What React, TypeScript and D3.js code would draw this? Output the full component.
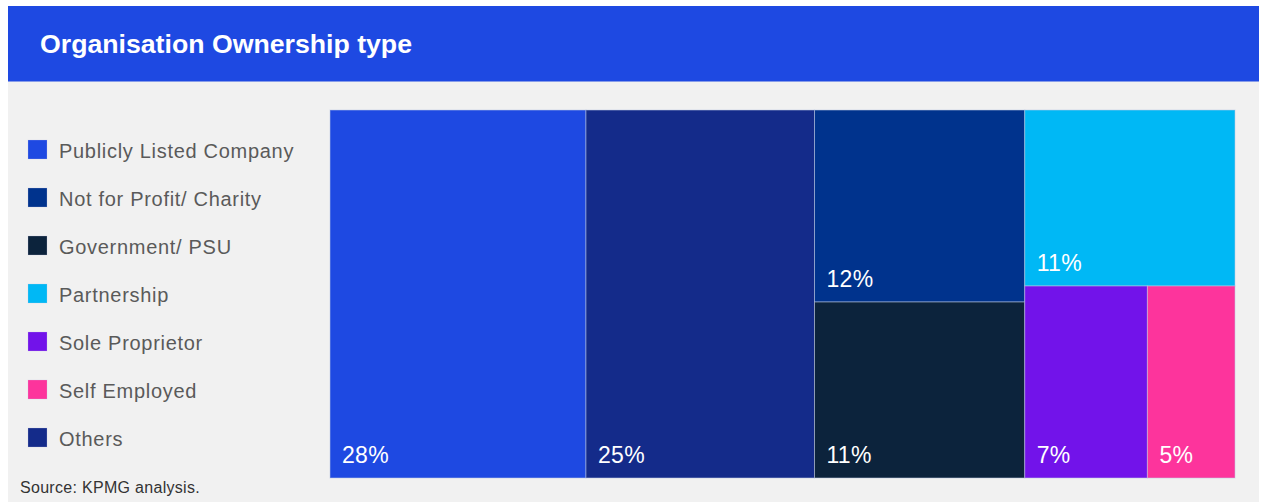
import React from "react";
import * as d3 from "d3";

const title = "Organisation Ownership type";
const source = "Source: KPMG analysis.";
const categories = [
  "Publicly Listed Company",
  "Not for Profit/ Charity",
  "Government/ PSU",
  "Partnership",
  "Sole Proprietor",
  "Self Employed",
  "Others",
];
const values = [28, 12, 11, 11, 7, 5, 25];
const colors = ["#1E49E2", "#00338D", "#0C233C", "#00B8F5", "#7213EA", "#FD349C", "#142B8A"];

const W = 1266;
const H = 502;
const tm = { x0: 330, y0: 110, x1: 1235, y1: 478 };
const FONT = "'Liberation Sans', Arial, Helvetica, sans-serif";

export default function App() {
  const data = categories.map((name, i) => ({ name, value: values[i], color: colors[i] }));
  const root = d3
    .hierarchy<any>({ name: "root", children: data })
    .sum((d: any) => d.value || 0)
    .sort((a, b) => (b.value || 0) - (a.value || 0));
  d3.treemap<any>()
    .tile(d3.treemapSquarify.ratio(1))
    .size([tm.x1 - tm.x0, tm.y1 - tm.y0])
    .round(false)(root);
  const leaves = root.leaves() as any[];
  const legendY = d3.scaleLinear().domain([0, categories.length - 1]).range([150, 438]);

  return (
    <svg width={W} height={H} style={{ position: "absolute", left: 0, top: 0, display: "block" }}>
      <rect x={0} y={0} width={W} height={H} fill="#ffffff" />
      <rect x={8} y={81} width={1251} height={H - 81} fill="#F1F1F1" />
      <rect x={8} y={6} width={1251} height={75.5} fill="#1E49E2" />
      <text x={40} y={53} fill="#ffffff" fontFamily={FONT} fontWeight="bold" fontSize={25} textLength={372} lengthAdjust="spacingAndGlyphs">
        {title}
      </text>
      <g transform={`translate(${tm.x0},${tm.y0})`}>
        {leaves.map((l, i) => (
          <g key={i}>
            <rect
              x={l.x0}
              y={l.y0}
              width={l.x1 - l.x0}
              height={l.y1 - l.y0}
              fill={l.data.color}
              stroke="rgba(190,200,225,0.55)"
              strokeWidth={1}
            />
            <text x={l.x0 + 12} y={l.y1 - 15} fill="#ffffff" fontFamily={FONT} fontSize={23} letterSpacing={0.3}>
              {`${l.data.value}%`}
            </text>
          </g>
        ))}
      </g>
      {categories.map((c, i) => (
        <g key={c}>
          <rect x={28} y={legendY(i) - 10} width={19} height={19} fill={colors[i]} stroke="rgba(200,200,230,0.5)" strokeWidth={0.5} />
          <text x={59} y={legendY(i) + 8} fill="#5A5A5A" fontFamily={FONT} fontSize={20} letterSpacing={0.7}>
            {c}
          </text>
        </g>
      ))}
      <text x={20} y={493} fill="#333333" fontFamily={FONT} fontSize={16} letterSpacing={0.3}>
        {source}
      </text>
    </svg>
  );
}
